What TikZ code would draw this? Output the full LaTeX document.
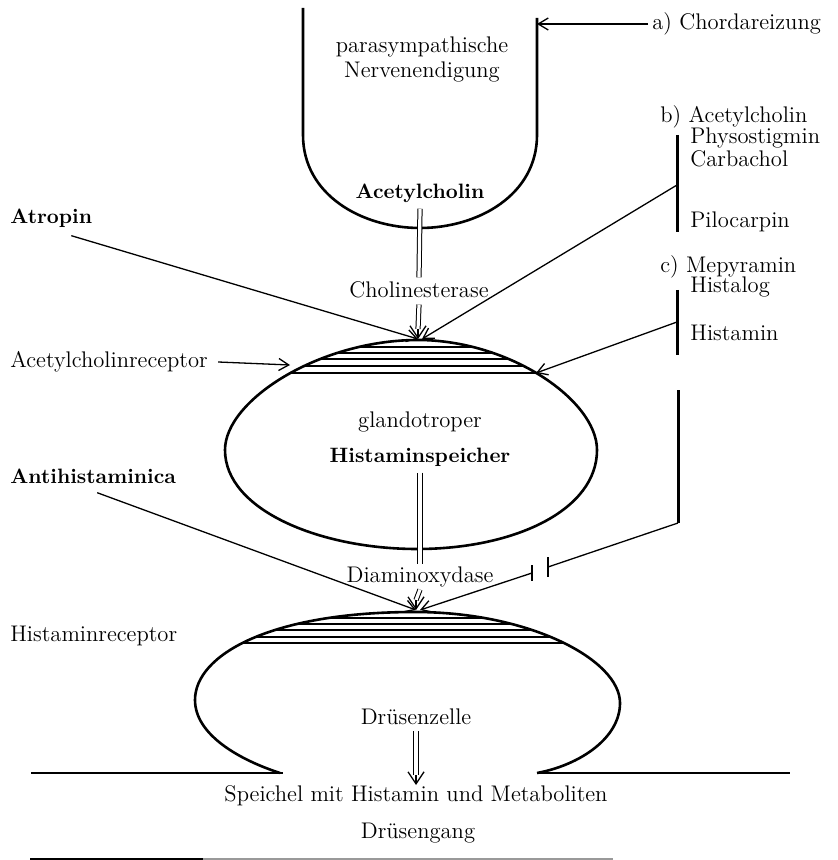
\documentclass[tikz,border=0pt]{standalone}
\usepackage{fontspec}
\usetikzlibrary{arrows.meta}
\begin{document}
\begin{tikzpicture}[x=0.5pt,y=-0.5pt,
  outline/.style={line width=1.3pt, line join=round},
  thinline/.style={line width=0.65pt},
  barline/.style={line width=1.5pt},
  hatch/.style={line width=0.6pt},
  arr/.style={thinline, -{Straight Barb[length=5pt,width=6pt]}},
  dbl/.style={double, double distance=1.6pt, line width=0.5pt},
  dtip/.style={thinline, -{Straight Barb[length=6pt,width=8pt]}},
  lbl/.style={inner sep=0pt, font=\fontsize{11.3}{13.5}\selectfont},
  blbl/.style={inner sep=0pt, font=\fontsize{10.4}{12.5}\selectfont\bfseries}]

\useasboundingbox (0,0) rectangle (837,860);

% parasympathetic nerve ending
\draw[outline] (303,8) -- (303,135) .. controls (303,195) and (362,228) .. (420,228)
  .. controls (478,228) and (537,195) .. (537,135) -- (537,18);

% histamine store with acetylcholine receptor cap
\begin{scope}
  \clip (418,340) .. controls (320,340) and (225,400) .. (225,450)
    .. controls (225,510) and (320,549) .. (417,549)
    .. controls (515,549) and (597,510) .. (597,450)
    .. controls (597,400) and (509,340) .. (418,340) -- cycle;
  \foreach \yy in {347,353,359,366} \draw[hatch] (200,\yy) -- (640,\yy);
  \draw[line width=1pt] (200,373) -- (640,373);
\end{scope}
\draw[outline] (418,340) .. controls (320,340) and (225,400) .. (225,450)
    .. controls (225,510) and (320,549) .. (417,549)
    .. controls (515,549) and (597,510) .. (597,450)
    .. controls (597,400) and (509,340) .. (418,340) -- cycle;

% gland cell with histamine receptor cap
\begin{scope}
  \clip (280,773) .. controls (240,760) and (195,735) .. (195,700)
    .. controls (195,655) and (270,612) .. (415,612)
    .. controls (530,612) and (620,660) .. (620,703)
    .. controls (620,738) and (580,765) .. (537,773) -- cycle;
  \foreach \yy in {618,624,630,637} \draw[hatch] (150,\yy) -- (680,\yy);
  \draw[line width=1pt] (150,643) -- (680,643);
\end{scope}
\draw[outline] (280,773) .. controls (240,760) and (195,735) .. (195,700)
    .. controls (195,655) and (270,612) .. (415,612)
    .. controls (530,612) and (620,660) .. (620,703)
    .. controls (620,738) and (580,765) .. (537,773);
\draw[line width=1.1pt] (31,773) -- (283,773);
\draw[line width=1.1pt] (537,773) -- (790,773);
\draw[line width=1pt] (30,859) -- (203,859);
\draw[line width=0.9pt, black!40] (203,859) -- (613,859);

% texts
\node[lbl] (para) at (422,47) {parasympathische};
\node[lbl] (nerv) at (422,72) {Nervenendigung};
\node[blbl] (ach) at (420,193) {Acetylcholin};
\node[lbl] (chol) at (419,290) {Cholinesterase};
\node[blbl, anchor=west] (atro) at (10,218) {Atropin};
\node[lbl, anchor=west] (achr) at (10,362) {Acetylcholinreceptor};
\node[lbl] (spg1) at (420,422) {glandotroper};
\node[blbl] (spg2) at (420,457) {Histaminspeicher};
\node[blbl, anchor=west] (antih) at (10,476) {Antihistaminica};
\node[lbl] (diam) at (420,577) {Diaminoxydase};
\node[lbl, anchor=west] (hrec) at (10,636) {Histaminreceptor};
\node[lbl] (druz) at (416,717) {Drüsenzelle};
\node[lbl] (spei) at (416,796) {Speichel mit Histamin und Metaboliten};
\node[lbl] (gang) at (418,833) {Drüsengang};

\node[lbl, anchor=west] (chorda) at (652,24) {a) Chordareizung};
\node[lbl, anchor=west] (bA) at (660,117) {b) Acetylcholin};
\node[lbl, anchor=west] (phys) at (690,138) {Physostigmin};
\node[lbl, anchor=west] (carb) at (690,159) {Carbachol};
\node[lbl, anchor=west] (pilo) at (690,222) {Pilocarpin};
\node[lbl, anchor=west] (cM) at (660,267) {c) Mepyramin};
\node[lbl, anchor=west] (hlog) at (690,287) {Histalog};
\node[lbl, anchor=west] (hist) at (690,333) {Histamin};

% coordinates
\coordinate (nr) at (537,24);
\coordinate (r1) at (418,339);
\coordinate (r1left) at (290,365);
\coordinate (r1right) at (536,373);
\coordinate (bb) at (677,185);
\coordinate (cc) at (677,322);
\coordinate (r2) at (416,610);
\coordinate (ia) at (678,523);
\coordinate (ib) at (548,567);
\coordinate (ic) at (532,573);
\coordinate (r3) at (416,785);

% bars on the right
\draw[barline] (677,135) -- (677,232);
\draw[barline] (677,290) -- (677,355);
\draw[barline] (678,390) -- (ia);

% connectors
\draw[arr] ([xshift=-2pt]chorda.west) -- (nr);
\draw[arr] ([xshift=10pt,yshift=-4pt]atro.south) -- (r1);
\draw[arr] (bb) -- ([xshift=2pt]r1);
\draw[arr] (cc) -- (r1right);
\draw[arr] ([xshift=5pt]achr.east) -- (r1left);
\draw[dbl] ([yshift=-3pt]ach.south) -- ([yshift=2pt]chol.north);
\draw[dbl] ([yshift=-3pt]chol.south) -- ([yshift=5pt]r1);
\draw[dtip] ([yshift=5pt]r1) -- (r1);

\draw[arr] ([xshift=2pt,yshift=-4.5pt]antih.south) -- (r2);
\draw[dbl] ([yshift=-3pt]spg2.south) -- ([yshift=1pt]diam.north);
\draw[dbl] ([yshift=-1pt]diam.south) -- ([yshift=5pt]r2);
\draw[dtip] ([yshift=5pt]r2) -- (r2);

\draw[thinline] (ia) -- (ib);
\draw[thinline] ([yshift=5pt]ib) -- ([yshift=-5pt]ib);
\draw[thinline] ([yshift=4pt]ic) -- ([yshift=-4pt]ic);
\draw[arr] (ic) -- ([xshift=2pt]r2);

\draw[dbl] ([yshift=-3pt]druz.south) -- ([yshift=5pt]r3);
\draw[dtip] ([yshift=5pt]r3) -- (r3);
\end{tikzpicture}
\end{document}
